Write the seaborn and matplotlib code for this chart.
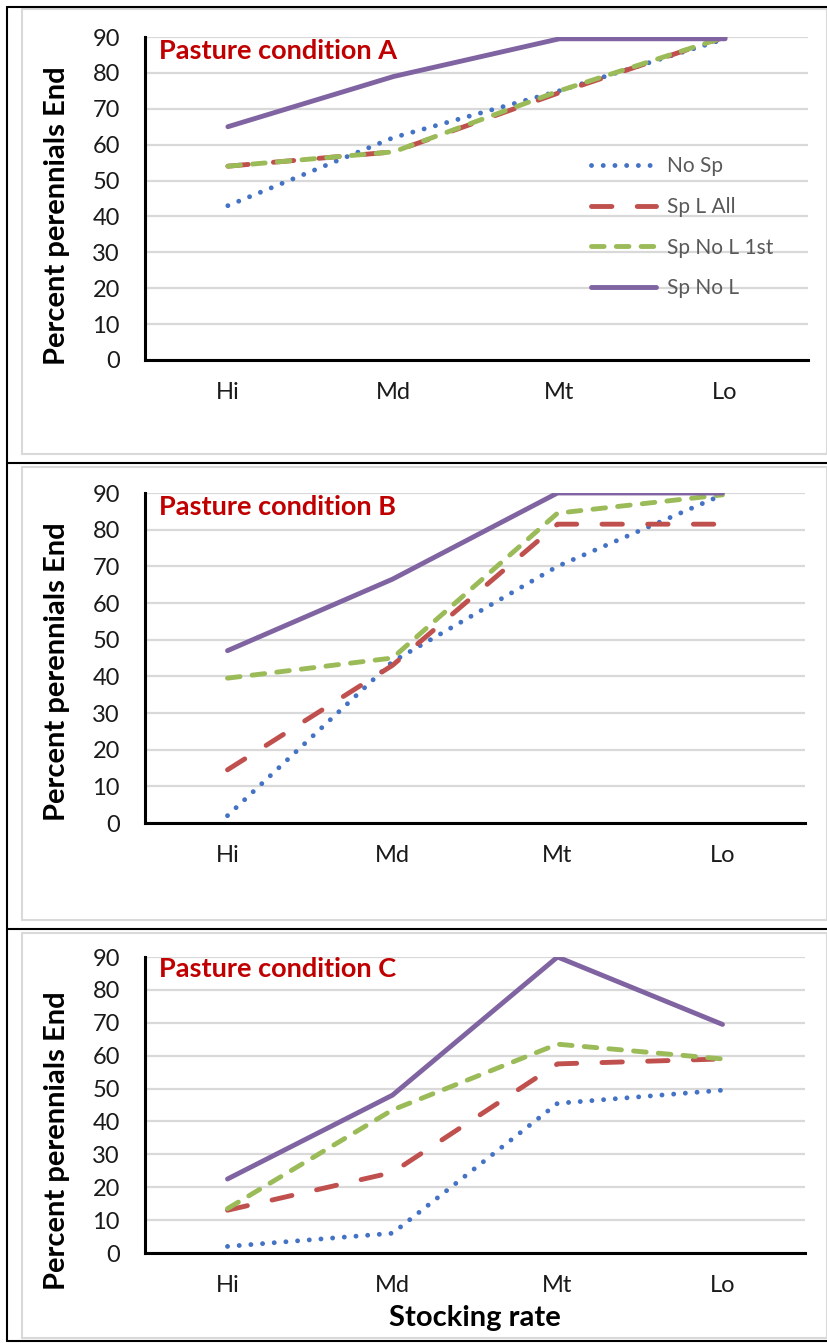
"""Percent perennials at end vs stocking rate, three pasture conditions."""
import matplotlib.pyplot as plt
import matplotlib.lines as mlines
import matplotlib.patches as mpatches
import pandas as pd
import seaborn as sns

RATES = ["Hi", "Md", "Mt", "Lo"]
SERIES = ["No Sp", "Sp L All", "Sp No L 1st", "Sp No L"]

# pasture condition A
A_NO_SP = [43, 62, 75, 89.5]
A_SP_L_ALL = [54, 58, 74.5, 90]
A_SP_NO_L_1ST = [54, 58, 75, 90]
A_SP_NO_L = [65, 79, 89.5, 89.5]

# pasture condition B
B_NO_SP = [2, 44, 70, 89.5]
B_SP_L_ALL = [14.5, 43, 81.5, 81.5]
B_SP_NO_L_1ST = [39.5, 45, 84.5, 89.5]
B_SP_NO_L = [47, 66.5, 90, 90]

# pasture condition C
C_NO_SP = [2, 6, 45.5, 49.5]
C_SP_L_ALL = [13, 24.5, 57.5, 59]
C_SP_NO_L_1ST = [13.5, 43.5, 63.5, 59]
C_SP_NO_L = [22.5, 48, 90, 69.5]

PANEL_DATA = {
    "A": [A_NO_SP, A_SP_L_ALL, A_SP_NO_L_1ST, A_SP_NO_L],
    "B": [B_NO_SP, B_SP_L_ALL, B_SP_NO_L_1ST, B_SP_NO_L],
    "C": [C_NO_SP, C_SP_L_ALL, C_SP_NO_L_1ST, C_SP_NO_L],
}

COLORS = {"No Sp": "#4472C4", "Sp L All": "#C0504D",
          "Sp No L 1st": "#9BBB59", "Sp No L": "#8064A2"}
DASHES = {"No Sp": (0.01, 2.4), "Sp L All": (4.2, 5.2),
          "Sp No L 1st": (2.6, 2.5), "Sp No L": ""}

W, H = 828, 1343
# axes boxes in pixels: left, top, right, bottom
BOXES = {"A": (145, 37, 808, 360), "B": (145, 493, 805, 823), "C": (145, 957, 805, 1253)}
YLABEL_Y = {"A": 216, "B": 672, "C": 1141}

sns.set_theme(style="white")
plt.rcParams["font.family"] = ["Lato", "DejaVu Sans"]

fig = plt.figure(figsize=(W / 100, H / 100), dpi=100)


def fx(x):
    return x / W


def fy(y):
    return 1 - y / H


for panel, values in PANEL_DATA.items():
    l, t, r, b = BOXES[panel]
    ax = fig.add_axes([fx(l), fy(b), (r - l) / W, (b - t) / H])
    df = pd.DataFrame({
        "rate": RATES * len(SERIES),
        "pct": [v for vals in values for v in vals],
        "series": [s for s in SERIES for _ in RATES],
    })
    sns.lineplot(data=df, x="rate", y="pct", hue="series", style="series",
                 palette=COLORS, dashes=DASHES, hue_order=SERIES, style_order=SERIES,
                 linewidth=3.5, errorbar=None, legend=False, ax=ax, zorder=3)
    for line in ax.get_lines():
        line.set_dash_capstyle("round")
        line.set_solid_capstyle("round")

    ax.set_xlim(-0.5, 3.5)
    ax.set_ylim(0, 90)
    ax.set_yticks(range(0, 91, 10))
    ax.set_xlabel("")
    ax.set_ylabel("")
    ax.yaxis.grid(True, color="#D9D9D9", linewidth=1.6, zorder=0)
    ax.xaxis.grid(False)
    ax.set_axisbelow(True)
    for side in ["top", "right"]:
        ax.spines[side].set_visible(False)
    for side in ["left", "bottom"]:
        ax.spines[side].set_color("black")
        ax.spines[side].set_linewidth(2.2)
    ax.tick_params(axis="y", length=0, pad=18, labelsize=17, labelcolor="#1a1a1a")
    ax.tick_params(axis="x", length=0, pad=16, labelsize=17, labelcolor="#1a1a1a")

    ax.text(0.021, 0.958, f"Pasture condition {panel}", transform=ax.transAxes,
            ha="left", va="center", fontsize=19.5, fontweight="bold", color="#C00000")
    fig.text(fx(57), fy(YLABEL_Y[panel]), "Percent perennials End", rotation=90,
             ha="center", va="center", fontsize=21, fontweight="bold", color="black")

    if panel == "A":
        ax.legend(ax.get_lines()[:4], SERIES, loc="upper left",
                  bbox_to_anchor=((591 - l) / (r - l), 1 - (156 - t) / (b - t)),
                  frameon=False, fontsize=15, handlelength=3.1, handletextpad=0.55,
                  labelspacing=1.0, borderpad=0, borderaxespad=0, labelcolor="#595959")

fig.text(fx(475), fy(1318), "Stocking rate", ha="center", va="center",
         fontsize=21, fontweight="bold", color="black")

# table-cell frames
for top, bot in [(9, 454), (467, 920), (933, 1338)]:
    fig.add_artist(mpatches.Rectangle((fx(22), fy(bot)), (827 - 22) / W, (bot - top) / H,
                                      transform=fig.transFigure, fill=False,
                                      edgecolor="#D9D9D9", linewidth=1.5))
for y in [7, 462.5, 929, 1340.5]:
    fig.add_artist(mlines.Line2D([fx(7), 1], [fy(y), fy(y)], color="black", linewidth=1.5))
fig.add_artist(mlines.Line2D([fx(7), fx(7)], [fy(7), fy(1340.5)], color="black", linewidth=1.5))

fig.savefig("out.png", dpi=100)
